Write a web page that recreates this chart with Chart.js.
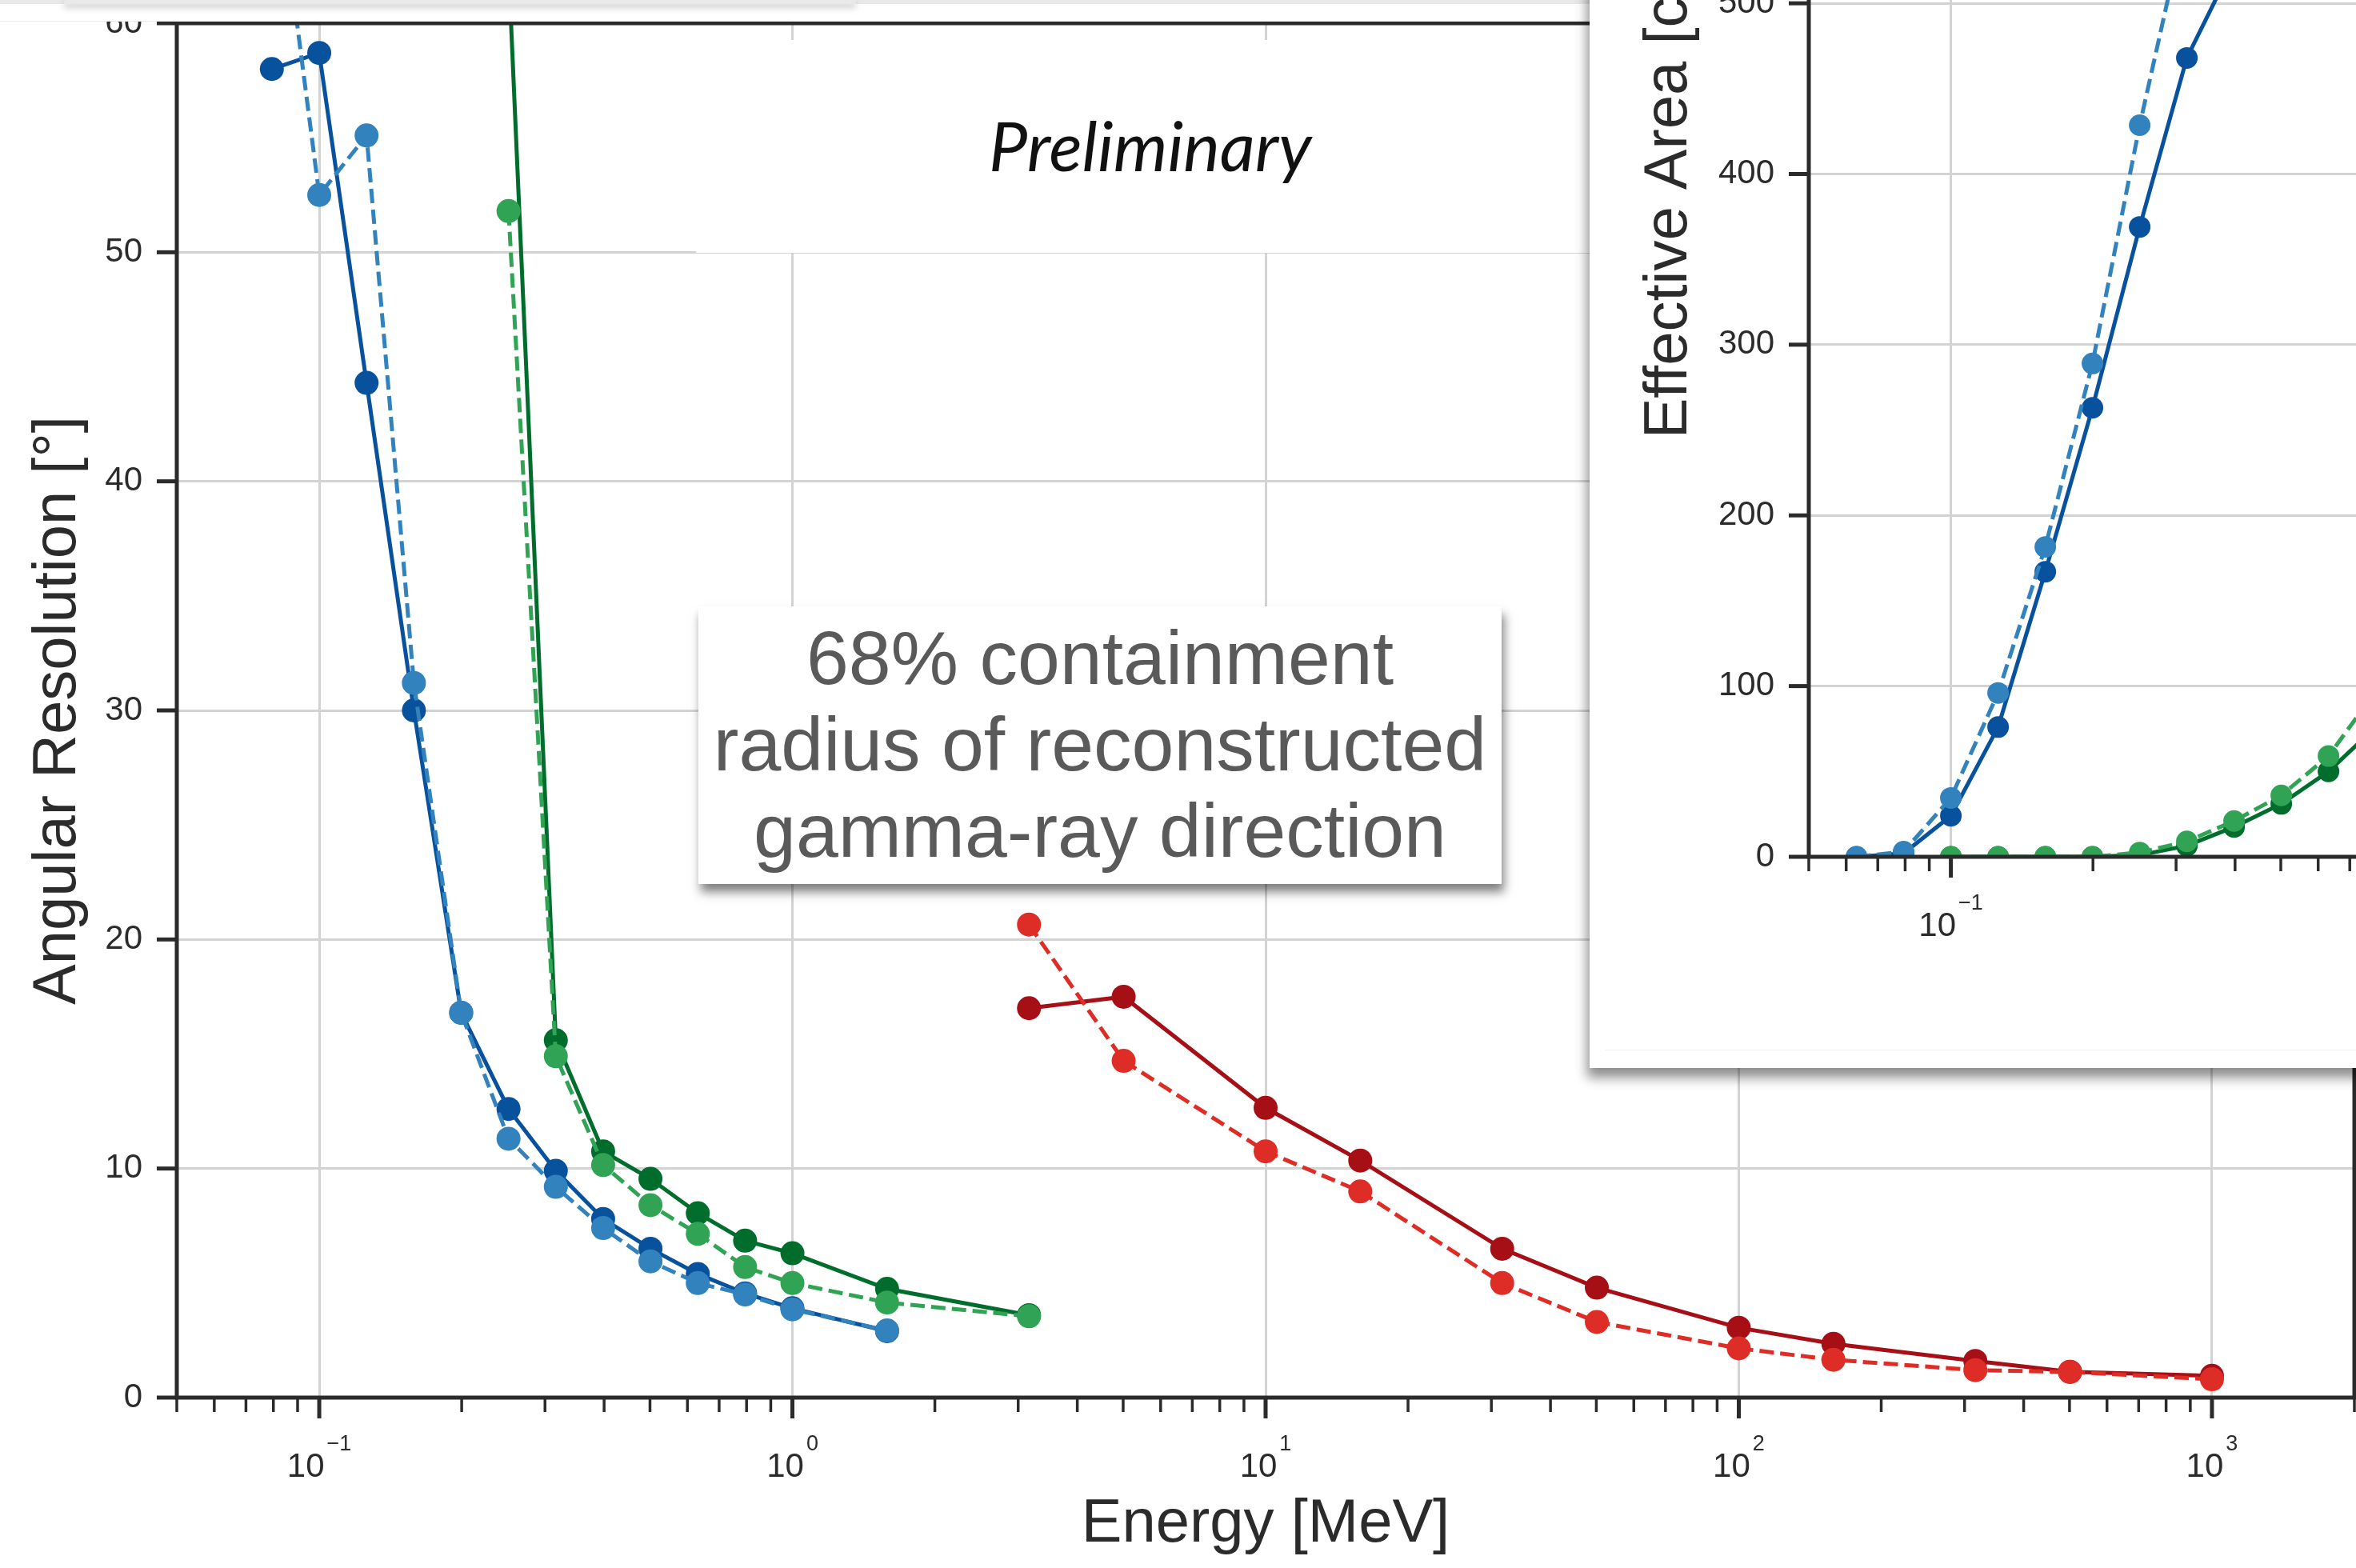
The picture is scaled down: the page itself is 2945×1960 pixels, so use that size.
<!DOCTYPE html>
<html>
<head>
<meta charset="utf-8">
<script src="https://cdn.jsdelivr.net/npm/chart.js@4.4.1/dist/chart.umd.min.js"></script>
<style>
  html, body { margin: 0; padding: 0; background: #fff; }
  body { width: 2945px; height: 1960px; overflow: hidden; position: relative; }
  #mainWrap { position: absolute; left: 0; top: 0; }
  #topStrip {
    position: absolute; left: 0; top: 0; width: 1987px; height: 26px;
    background: #fff; border-bottom: 1px solid #ececec;
  }
  #topStrip::before {
    content: ''; position: absolute; left: 0; right: 0; top: 0; height: 5px; background: #e9e9e9;
  }
  #topStrip::after {
    content: ''; position: absolute; left: 80px; width: 990px; top: 0; height: 5px;
    box-shadow: 0 4px 9px rgba(0, 0, 0, 0.28);
  }
  #note {
    position: absolute; left: 873px; top: 758px; width: 1004px; height: 347px;
    box-sizing: border-box; padding-top: 10px;
    background: #fff; color: #5a5a5a; text-align: center;
    font: 95px/108px "Liberation Sans", Arial, sans-serif;
    box-shadow: 3px 10px 12px rgba(0, 0, 0, 0.5);
  }
  #inset {
    position: absolute; left: 1987px; top: -700px; width: 1500px; height: 2035px;
    background: #fff; box-shadow: -3px 12px 14px rgba(0, 0, 0, 0.45);
  }
  #inset canvas { position: absolute; left: 0; top: 0; }
  #inset .rule { position: absolute; left: 20px; right: 0; top: 2012px; height: 1px; background: #efefef; }
</style>
</head>
<body>
<div id="mainWrap"><canvas id="resolutionChart" width="2945" height="1960"></canvas></div>
<div id="topStrip"></div>
<div id="note">68% containment<br>radius of reconstructed<br>gamma-ray direction</div>
<div id="inset"><canvas id="areaChart" width="1500" height="2035"></canvas><div class="rule"></div></div>

<script>
// energies in MeV, resolution in degrees
const blueEnergy  = [0.0794, 0.1, 0.1259, 0.1585, 0.1995, 0.2512, 0.3162, 0.3981, 0.5012, 0.631, 0.7943, 1.0, 1.585];
const blueSolid   = [58.0, 58.7, 44.3, 30.0, 16.8, 12.6, 9.9, 7.8, 6.5, 5.4, 4.55, 3.9, 2.9];
const blueDashed  = [68.5, 52.5, 55.1, 31.2, 16.8, 11.3, 9.2, 7.4, 5.95, 5.0, 4.5, 3.85, 2.93];

const greenEnergy = [0.2512, 0.3162, 0.3981, 0.5012, 0.631, 0.7943, 1.0, 1.585, 3.162];
const greenSolid  = [62.5, 15.6, 10.75, 9.55, 8.05, 6.85, 6.3, 4.75, 3.6];
const greenDashed = [51.8, 14.9, 10.15, 8.4, 7.15, 5.7, 5.0, 4.15, 3.55];

const redEnergy   = [3.162, 5.012, 10, 15.85, 31.62, 50.12, 100, 158.5, 316.2, 501.2, 1000];
const redSolid    = [17.0, 17.5, 12.65, 10.35, 6.5, 4.8, 3.05, 2.35, 1.6, 1.13, 0.95];
const redDashed   = [20.65, 14.7, 10.75, 9.0, 5.0, 3.3, 2.15, 1.65, 1.2, 1.12, 0.8];

// effective area panel, cm^2
const areaBlueEnergy  = [0.0631, 0.0794, 0.1, 0.1259, 0.1585, 0.1995, 0.2512, 0.3162, 0.3981];
const areaBlueSolid   = [0, 2, 24, 76, 167, 263, 369, 468, 524];
const areaBlueDashed  = [0, 3, 34.5, 96, 181.5, 289, 428.6, 552];
const areaGreenEnergy = [0.1, 0.1259, 0.1585, 0.1995, 0.2512, 0.3162, 0.3981, 0.5012, 0.631, 0.7943];
const areaGreenSolid  = [0, 0, 0, 0, 1, 6.5, 17.5, 31, 50, 76];
const areaGreenDashed = [0, 0, 0, 0, 2.5, 9, 21, 36, 59, 97];

// axis ticks
const energyDecades = [0.1, 1, 10, 100, 1000];
const areaDecades   = [0.1, 1];
const resTicks      = [0, 10, 20, 30, 40, 50, 60];
const areaTicks     = [0, 100, 200, 300, 400, 500, 600, 700, 800];

const INK = '#2b2b2b';
const GRID = '#d3d3d3';
const FONT = '"Liberation Sans", Arial, sans-serif';

const BLUE_DARK = '#08519c', BLUE_LIGHT = '#3182bd';
const GREEN_DARK = '#006d2c', GREEN_LIGHT = '#31a354';
const RED_DARK = '#a50f15', RED_LIGHT = '#de2d26';

function pts(xs, ys) {
  return ys.map((v, i) => ({ x: xs[i], y: v }));
}

function series(label, xs, ys, color, dashed, r) {
  return {
    label: label,
    data: pts(xs, ys),
    borderColor: color,
    backgroundColor: color,
    borderWidth: 5,
    borderDash: dashed ? [18, 8] : [],
    pointRadius: r,
    pointHoverRadius: r,
    pointBorderWidth: 0,
    pointBackgroundColor: color,
    tension: 0,
    fill: false,
    clip: 0
  };
}

// "10" with a raised exponent, centred on the tick
function powLabel(ctx, px, bottom, exp) {
  const sup = exp < 0 ? '\u2212' + (-exp) : String(exp);
  ctx.font = '42px ' + FONT;
  const wb = ctx.measureText('10').width;
  ctx.font = '27px ' + FONT;
  const ws = ctx.measureText(sup).width;
  const x0 = px - (wb + 3 + ws) / 2;
  ctx.textAlign = 'left';
  ctx.textBaseline = 'alphabetic';
  ctx.font = '42px ' + FONT;
  ctx.fillText('10', x0, bottom + 99);
  ctx.font = '27px ' + FONT;
  ctx.fillText(sup, x0 + wb + 3, bottom + 66);
}

// spines, outward ticks, tick labels and axis titles
function frame(cfg) {
  return {
    id: 'frame',
    afterDatasetsDraw(chart) {
      const { ctx, chartArea: a, scales: { x, y } } = chart;
      ctx.save();
      ctx.strokeStyle = INK;
      ctx.fillStyle = INK;

      const lo = Math.floor(Math.log10(x.min) + 1e-9);
      const hi = Math.ceil(Math.log10(x.max) - 1e-9);
      for (let e = lo; e <= hi; e++) {
        for (let m = 1; m < 10; m++) {
          const v = m * Math.pow(10, e);
          if (v < x.min * 0.999 || v > x.max * 1.001) continue;
          const px = x.getPixelForValue(v);
          const major = m === 1;
          ctx.lineWidth = major ? 5 : 3.5;
          ctx.beginPath();
          ctx.moveTo(px, a.bottom);
          ctx.lineTo(px, a.bottom + (major ? 26 : 18));
          ctx.stroke();
        }
      }
      cfg.decades.forEach(v => powLabel(ctx, x.getPixelForValue(v), a.bottom, Math.round(Math.log10(v))));

      ctx.font = '42px ' + FONT;
      ctx.textAlign = 'right';
      ctx.textBaseline = 'middle';
      cfg.yTicks.forEach(v => {
        const py = y.getPixelForValue(v);
        ctx.lineWidth = 5;
        ctx.beginPath();
        ctx.moveTo(a.left - 25, py);
        ctx.lineTo(a.left, py);
        ctx.stroke();
        ctx.fillText(String(v), a.left - 43, py);
      });

      ctx.lineWidth = 5;
      ctx.strokeRect(a.left, a.top, a.right - a.left, a.bottom - a.top);

      ctx.font = '76px ' + FONT;
      ctx.textAlign = 'center';
      ctx.textBaseline = 'alphabetic';
      if (cfg.xTitle) ctx.fillText(cfg.xTitle, (a.left + a.right) / 2, a.bottom + 180);
      ctx.translate(a.left - cfg.yTitleGap, (a.top + a.bottom) / 2);
      ctx.rotate(-Math.PI / 2);
      ctx.fillText(cfg.yTitle, 0, 0);
      ctx.restore();
    }
  };
}

// blank panel behind the "Preliminary" stamp
const prelimPanel = {
  id: 'prelimPanel',
  beforeDatasetsDraw(chart) {
    const ctx = chart.ctx;
    ctx.save();
    ctx.fillStyle = '#fff';
    ctx.fillRect(870, 50, 1120, 266);
    ctx.fillStyle = '#111';
    ctx.font = 'italic 400 86px Lato, "Open Sans", sans-serif';
    ctx.textAlign = 'left';
    ctx.textBaseline = 'alphabetic';
    ctx.fillText('Preliminary', 1236, 214);
    ctx.restore();
  }
};

function axes(xMin, xMax, decades, yMin, yMax, yTicks) {
  const grid = { color: GRID, lineWidth: 3, drawTicks: false };
  return {
    x: {
      type: 'logarithmic', min: xMin, max: xMax, bounds: 'data',
      afterBuildTicks: s => { s.ticks = decades.map(v => ({ value: v })); },
      ticks: { display: false }, grid: grid, border: { display: false }
    },
    y: {
      type: 'linear', min: yMin, max: yMax,
      afterBuildTicks: s => { s.ticks = yTicks.map(v => ({ value: v })); },
      ticks: { display: false }, grid: grid, border: { display: false }
    }
  };
}

const resolutionChart = new Chart(document.getElementById('resolutionChart'), {
  type: 'line',
  data: {
    datasets: [
      series('Blue dashed', blueEnergy, blueDashed, BLUE_LIGHT, true, 15),
      series('Blue', blueEnergy, blueSolid, BLUE_DARK, false, 15),
      series('Green dashed', greenEnergy, greenDashed, GREEN_LIGHT, true, 15),
      series('Green', greenEnergy, greenSolid, GREEN_DARK, false, 15),
      series('Red dashed', redEnergy, redDashed, RED_LIGHT, true, 15),
      series('Red', redEnergy, redSolid, RED_DARK, false, 15)
    ]
  },
  options: {
    responsive: false,
    animation: false,
    events: [],
    layout: { autoPadding: false, padding: { left: 221, right: 2, top: 29, bottom: 213 } },
    plugins: { legend: { display: false }, tooltip: { enabled: false } },
    scales: axes(0.05, 2000, energyDecades, 0, 60, resTicks)
  },
  plugins: [prelimPanel, frame({
    decades: energyDecades, yTicks: resTicks,
    xTitle: 'Energy [MeV]', yTitle: 'Angular Resolution [\u00b0]', yTitleGap: 127
  })]
});

const areaChart = new Chart(document.getElementById('areaChart'), {
  type: 'line',
  data: {
    datasets: [
      series('Blue dashed', areaBlueEnergy, areaBlueDashed, BLUE_LIGHT, true, 13.5),
      series('Blue', areaBlueEnergy, areaBlueSolid, BLUE_DARK, false, 13.5),
      series('Green dashed', areaGreenEnergy, areaGreenDashed, GREEN_LIGHT, true, 13.5),
      series('Green', areaGreenEnergy, areaGreenSolid, GREEN_DARK, false, 13.5)
    ]
  },
  options: {
    responsive: false,
    animation: false,
    events: [],
    layout: { autoPadding: false, padding: { left: 274, right: 46, top: 64, bottom: 264 } },
    plugins: { legend: { display: false }, tooltip: { enabled: false } },
    scales: axes(0.05, 5, areaDecades, 0, 800, areaTicks)
  },
  plugins: [frame({
    decades: areaDecades, yTicks: areaTicks,
    yTitle: 'Effective Area [cm\u00b2]', yTitleGap: 153
  })]
});
</script>
</body>
</html>
